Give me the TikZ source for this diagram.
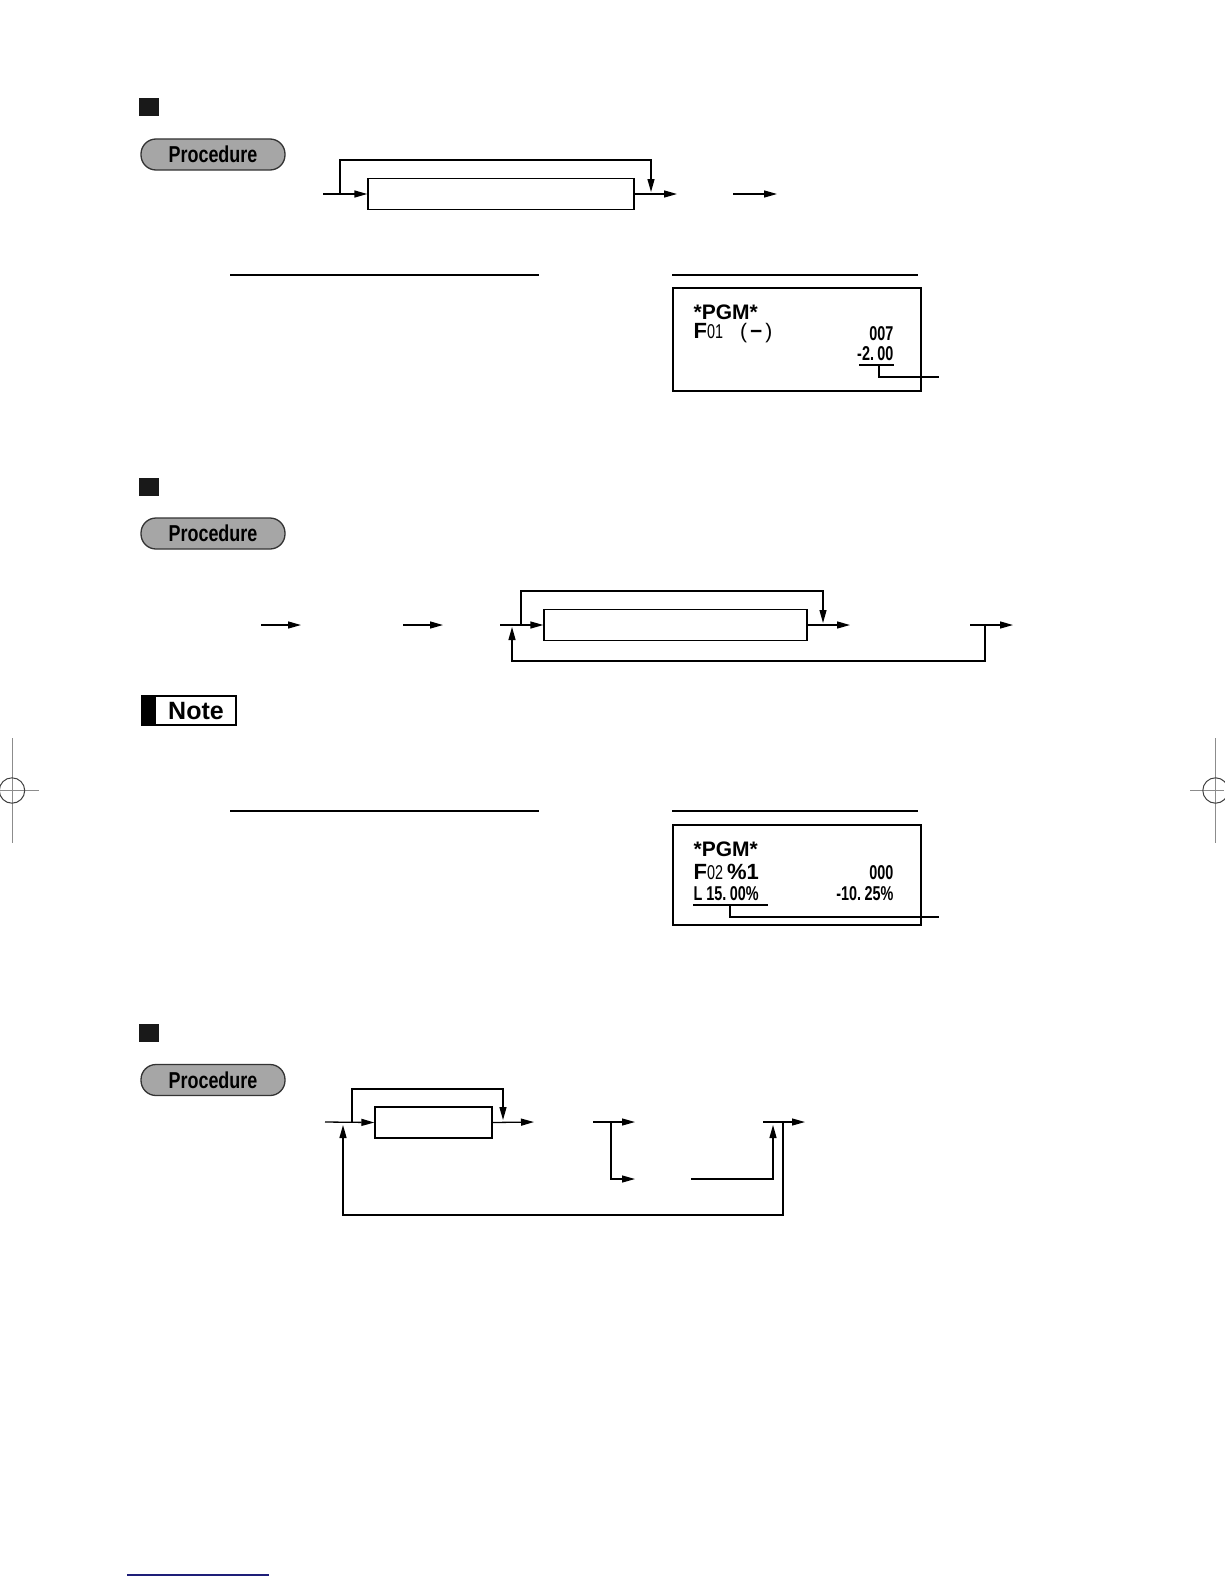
\documentclass[tikz,border=0pt]{standalone}
\usepackage{fontspec}
\setmainfont{Liberation Sans}
\newfontfamily\condfont[FakeStretch=0.72]{Liberation Sans}
\newfontfamily\procfont[FakeStretch=0.78]{Liberation Sans}
\usetikzlibrary{arrows.meta}
\definecolor{navy}{RGB}{30,30,120}
\begin{document}
\begin{tikzpicture}[x=1pt,y=-1pt,line width=1.3pt,
  arr/.style={-{Triangle[length=13pt,width=7pt]}},
  flowbox/.style={draw,rectangle,inner sep=0pt,line width=1.3pt},
  pill/.style={draw=black!80,fill=black!35,rounded corners=15pt,line width=1.3pt,
    minimum width=144pt,minimum height=31pt,inner sep=0pt,
    font=\procfont\bfseries\fontsize{23}{23}\selectfont},
  sqr/.style={fill=black!90,minimum width=20pt,minimum height=18pt,inner sep=0pt},
  rule/.style={line width=1.2pt},
  rcpt/.style={draw,line width=1.5pt,inner sep=0pt},
  txt/.style={inner sep=0pt},
  bigb/.style={font=\bfseries\fontsize{21}{21}\selectfont},
  cnd/.style={font=\condfont\bfseries\fontsize{20}{20}\selectfont},
  crop/.style={draw=black!45,line width=1pt},
  cropc/.style={draw=black!75,line width=1pt}
]
\useasboundingbox (0,0) rectangle (1224,1584);

% ---------- Section 1 ----------
\node[sqr] (sq1) at (149,107) {};
\node[pill] (pr1) at (213,154.5) {Procedure};
\node[flowbox,minimum width=266pt,minimum height=31pt] (b1) at (501,194) {};
\coordinate (s1) at (323,194);
\coordinate (k1) at (340,194);
\coordinate (m1) at (651,194);
\coordinate (e1) at (677,194);
\coordinate (f1a) at (733,194);
\coordinate (f1b) at (777,194);
\draw[arr] (s1) -- (b1.west);
\draw[arr,shorten >=2pt] (k1) -- ++(0,-34) -| (m1);
\draw[arr] (b1.east) -- (e1);
\draw[arr] (f1a) -- (f1b);

\draw[rule] (230,275) -- (539,275);
\draw[rule] (672,275) -- (918,275);

\node[rcpt,minimum width=248pt,minimum height=103pt] (rc1) at (797,339.5) {};
\node[txt,bigb,anchor=base west] (r1a) at (693,319) {*PGM*};
\node[txt,anchor=base west] (r1b) at (693,338) {{\bfseries\fontsize{22}{22}\selectfont F}{\condfont\fontsize{20}{20}\selectfont 01}\hspace{17pt}{\fontsize{21}{21}\selectfont (\hspace{3pt}{\bfseries −}\hspace{3pt})}};
\node[txt,cnd,anchor=base east] (r1c) at (894,340) {007};
\node[txt,cnd,anchor=base east] (r1d) at (894,360) {-2.\,00};
\draw[line width=1.2pt] (859,365) -- (894,365);
\draw[line width=1.2pt] (879,365) |- (939,377);

% ---------- Section 2 ----------
\node[sqr] (sq2) at (149,487) {};
\node[pill] (pr2) at (213,533.5) {Procedure};
\node[flowbox,minimum width=263pt,minimum height=31pt] (b2) at (675.5,625) {};
\coordinate (a2a) at (261,625);
\coordinate (a2b) at (301,625);
\coordinate (c2a) at (403,625);
\coordinate (c2b) at (443,625);
\coordinate (s2) at (500,625);
\coordinate (k2) at (521,625);
\coordinate (m2) at (823,625);
\coordinate (e2) at (850,625);
\coordinate (t2) at (970,625);
\coordinate (u2) at (1013,625);
\coordinate (v2) at (985,625);
\coordinate (w2) at (512,625);
\draw[arr] (a2a) -- (a2b);
\draw[arr] (c2a) -- (c2b);
\draw[arr] (s2) -- (b2.west);
\draw[arr,shorten >=2pt] (k2) -- ++(0,-34) -| (m2);
\draw[arr] (b2.east) -- (e2);
\draw[arr] (t2) -- (u2);
\draw[arr,shorten >=2pt] (v2) -- ++(0,36) -| (w2);

% Note
\node[draw,line width=1.3pt,minimum width=94pt,minimum height=29pt,inner sep=0pt] (nt) at (189,710.5) {};
\fill (142,696) rectangle (156,725);
\node[txt,anchor=base,font=\bfseries\fontsize{25}{25}\selectfont] (ntx) at (196,719.5) {Note};

\draw[rule] (230,811) -- (539,811);
\draw[rule] (672,811) -- (918,811);

\node[rcpt,minimum width=248pt,minimum height=100pt] (rc2) at (797,875) {};
\node[txt,bigb,anchor=base west] (r2a) at (693,856) {*PGM*};
\node[txt,anchor=base west] (r2b) at (693,879) {{\bfseries\fontsize{22}{22}\selectfont F}{\condfont\fontsize{20}{20}\selectfont 02 }{\bfseries\fontsize{22}{22}\selectfont \%1}};
\node[txt,cnd,anchor=base east] (r2c) at (894,879) {000};
\node[txt,cnd,anchor=base west] (r2d) at (693,900) {L 15.\,00\%};
\node[txt,anchor=base east,font=\condfont\bfseries\fontsize{20}{20}\selectfont] (r2e) at (894,900) {-10.\,25\%};
\draw[line width=1.2pt] (693,905) -- (768,905);
\draw[line width=1.2pt] (730,905) |- (939,917);

% ---------- Section 3 ----------
\node[sqr] (sq3) at (149,1033) {};
\node[pill] (pr3) at (213,1080) {Procedure};
\node[flowbox,minimum width=117pt,minimum height=31pt] (b3) at (433.5,1122.5) {};
\coordinate (s3) at (325,1122);
\coordinate (k3) at (352,1122);
\coordinate (m3) at (503,1122);
\coordinate (e3) at (534,1122);
\coordinate (g3) at (593,1122);
\coordinate (h3) at (635,1122);
\coordinate (j3) at (611,1122);
\coordinate (h3b) at (635,1179);
\coordinate (n3) at (691,1179);
\coordinate (o3) at (773,1122);
\coordinate (p3) at (763,1122);
\coordinate (q3) at (805,1122);
\coordinate (r3) at (783,1122);
\coordinate (w3) at (343,1122);
\draw[arr] (s3) -- (b3.west);
\draw[arr,shorten >=2pt] (k3) -- ++(0,-33) -| (m3);
\draw[arr] (b3.east) -- (e3);
\draw[arr] (g3) -- (h3);
\draw[arr] (j3) |- (h3b);
\draw[arr,shorten >=3pt] (n3) -| (o3);
\draw[arr] (p3) -- (q3);
\draw[arr,shorten >=3pt] (r3) -- ++(0,93) -| (w3);

% ---------- crop marks ----------
\draw[crop] (12,738) -- (12,843);
\draw[crop] (0,790.5) -- (39,790.5);
\draw[cropc] (12,790.5) circle (12.7);
\draw[crop] (1215.5,738) -- (1215.5,843);
\draw[crop] (1190,790.5) -- (1224,790.5);
\draw[cropc] (1215.5,790.5) circle (12.7);

% bottom rule
\draw[navy,line width=1.5pt] (127,1575) -- (269,1575);
\end{tikzpicture}
\end{document}
